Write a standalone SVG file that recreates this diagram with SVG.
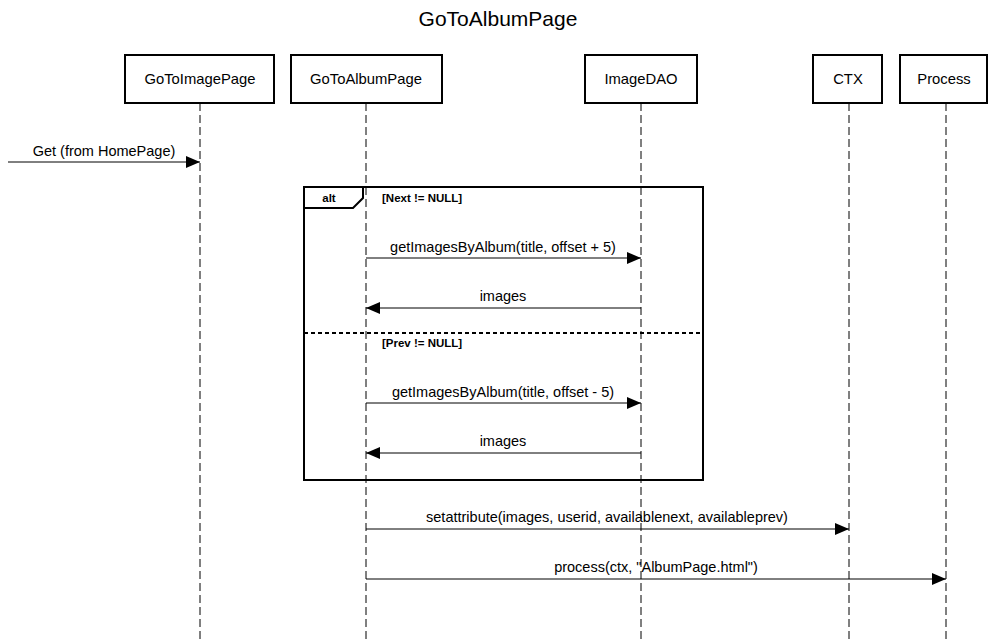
<svg xmlns="http://www.w3.org/2000/svg" width="999" height="639" viewBox="0 0 999 639">
<defs>
<style>
text{font-family:"Liberation Sans",Arial,Helvetica,sans-serif;fill:#000}
.title{font-size:21px;text-anchor:middle}
.box{fill:#fff;stroke:#000;stroke-width:2}
.lbl{font-size:14.8px;text-anchor:middle}
.life{stroke:#000;stroke-width:1;stroke-dasharray:8 4;fill:none}
.msg{stroke:#000;stroke-width:1;fill:none}
.mtext{font-size:14.5px;text-anchor:middle}
.frame{fill:none;stroke:#000;stroke-width:2}
.guard{font-size:11.5px;font-weight:bold}
</style>
<marker id="ah" viewBox="0 0 14 12" refX="14" refY="6" markerWidth="14" markerHeight="12" markerUnits="userSpaceOnUse" orient="auto">
<path d="M0,0 L14,6 L0,12 Z" fill="#000"/>
</marker>
</defs>
<rect width="999" height="639" fill="#fff"/>
<text class="title" x="498" y="26">GoToAlbumPage</text>

<g id="lifelines">
<line class="life" x1="200" y1="103" x2="200" y2="639"/>
<line class="life" x1="366" y1="103" x2="366" y2="639"/>
<line class="life" x1="641" y1="103" x2="641" y2="639"/>
<line class="life" x1="849" y1="103" x2="849" y2="639"/>
<line class="life" x1="946" y1="103" x2="946" y2="639"/>
</g>

<g id="GoToImagePage"><rect class="box" x="125" y="55" width="149" height="48"/><text class="lbl" x="200" y="84">GoToImagePage</text></g>
<g id="GoToAlbumPage"><rect class="box" x="291" y="55" width="151" height="48"/><text class="lbl" x="366" y="84">GoToAlbumPage</text></g>
<g id="ImageDAO"><rect class="box" x="585" y="55" width="112" height="48"/><text class="lbl" x="641" y="84">ImageDAO</text></g>
<g id="CTX"><rect class="box" x="813" y="55" width="69" height="48"/><text class="lbl" x="848" y="84">CTX</text></g>
<g id="Process"><rect class="box" x="900" y="55" width="87" height="48"/><text class="lbl" x="944" y="84">Process</text></g>

<g id="altFrame">
<rect class="frame" x="304" y="187" width="399" height="293"/>
<path class="frame" d="M304,208 L353,208 L363,198 L363,187"/>
<text class="guard" x="329" y="202" text-anchor="middle">alt</text>
<text class="guard" x="382" y="202">[Next != NULL]</text>
<line x1="304" y1="333" x2="703" y2="333" stroke="#000" stroke-width="2" stroke-dasharray="4 3"/>
<text class="guard" x="382" y="347">[Prev != NULL]</text>
</g>

<g id="connectors">
<line class="msg" x1="8" y1="162" x2="200" y2="162" marker-end="url(#ah)"/>
<text class="mtext" x="104" y="156">Get (from HomePage)</text>
<line class="msg" x1="366" y1="258" x2="641" y2="258" marker-end="url(#ah)"/>
<text class="mtext" x="503" y="252">getImagesByAlbum(title, offset + 5)</text>
<line class="msg" x1="641" y1="308" x2="366" y2="308" marker-end="url(#ah)"/>
<text class="mtext" x="503" y="301">images</text>
<line class="msg" x1="366" y1="403" x2="641" y2="403" marker-end="url(#ah)"/>
<text class="mtext" x="503" y="397">getImagesByAlbum(title, offset - 5)</text>
<line class="msg" x1="641" y1="453" x2="366" y2="453" marker-end="url(#ah)"/>
<text class="mtext" x="503" y="446">images</text>
<line class="msg" x1="366" y1="529" x2="849" y2="529" marker-end="url(#ah)"/>
<text class="mtext" x="607" y="522">setattribute(images, userid, availablenext, availableprev)</text>
<line class="msg" x1="366" y1="579" x2="946" y2="579" marker-end="url(#ah)"/>
<text class="mtext" x="656" y="572">process(ctx, "AlbumPage.html")</text>
</g>
</svg>
